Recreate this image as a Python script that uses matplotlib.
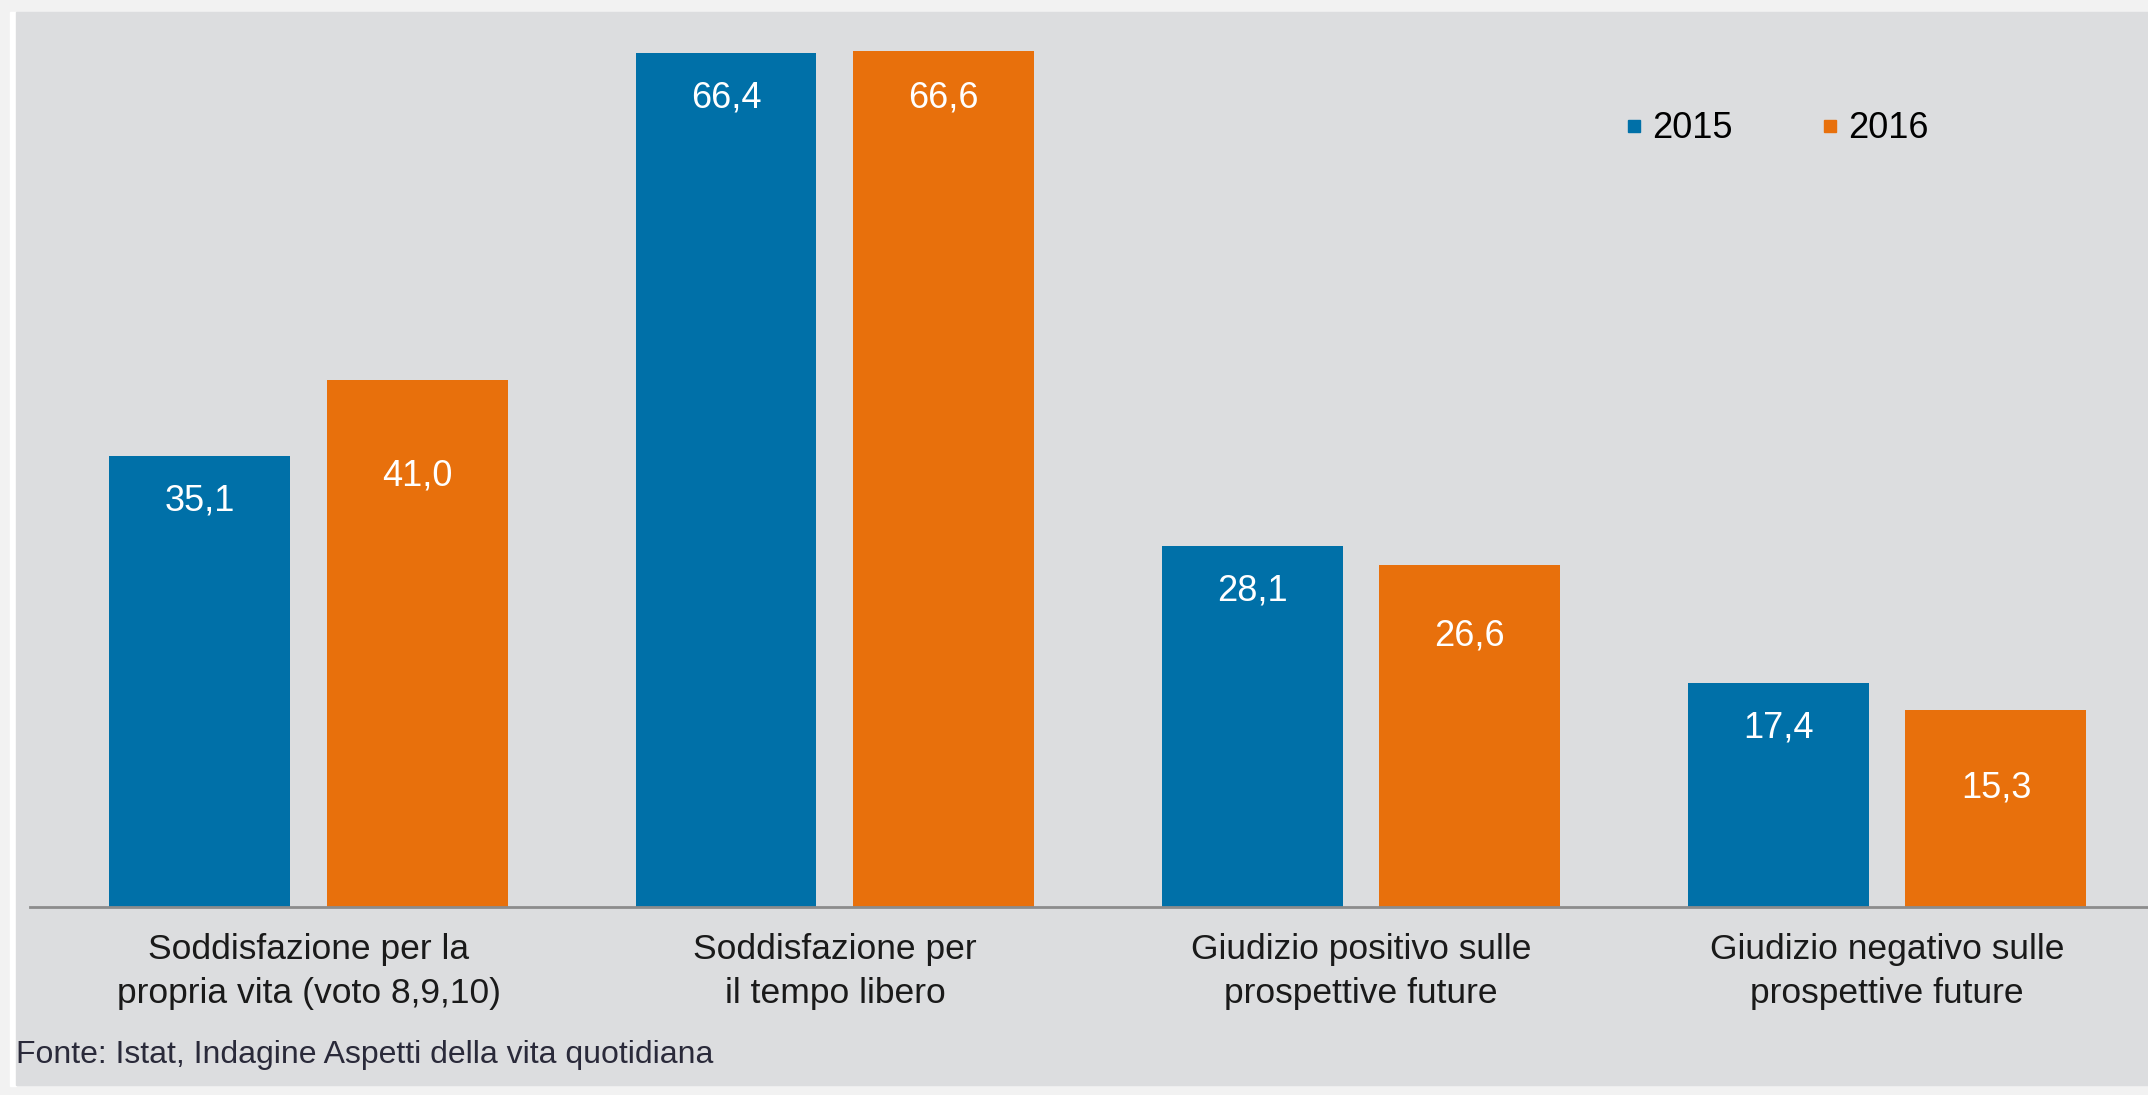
import matplotlib
matplotlib.use("Agg")
import matplotlib.pyplot as plt
from matplotlib.patches import Rectangle
from matplotlib.lines import Line2D
import numpy as np

# data
categories = ["Soddisfazione per la\npropria vita (voto 8,9,10)",
              "Soddisfazione per\nil tempo libero",
              "Giudizio positivo sulle\nprospettive future",
              "Giudizio negativo sulle\nprospettive future"]
years = ["2015", "2016"]
vals_2015 = [35.1, 66.4, 28.1, 17.4]
vals_2016 = [41.0, 66.6, 26.6, 15.3]
source = "Fonte: Istat, Indagine Aspetti della vita quotidiana"

# label drop below bar top, in pixels (as in the original)
drop_2015 = [45, 45, 45, 45]
drop_2016 = [96, 47, 71, 78]

blue = "#0070a8"
orange = "#e8700c"
panel = "#dcdddf"

plt.rcParams['font.family'] = ['Liberation Sans', 'DejaVu Sans']

fig = plt.figure(figsize=(21.48, 10.95), dpi=100)
fig.patch.set_facecolor("#f2f2f2")
W, H = 2148, 1095
# white strip + gray panel
fig.patches.append(Rectangle((10 / W, 0.008), 6 / W, 1 - 12 / H - 0.008,
                             transform=fig.transFigure, color="white", zorder=-10))
fig.patches.append(Rectangle((16 / W, 1 - 1085 / H), 1 - 16 / W, (1085 - 12) / H,
                             transform=fig.transFigure, color=panel, zorder=-10))

ax = fig.add_axes([30 / W, 1 - 907 / H, 1 - 30 / W, (907 - 20) / H])
ax.set_facecolor("none")

x = np.arange(len(categories))
w = 0.344
off = 0.207
b1 = ax.bar(x - off, vals_2015, w, color=blue, zorder=2)
b2 = ax.bar(x + off, vals_2016, w, color=orange, zorder=2)

for bars, vals, drops in [(b1, vals_2015, drop_2015), (b2, vals_2016, drop_2016)]:
    for r, v, d in zip(bars, vals, drops):
        ax.annotate(f"{v:.1f}".replace(".", ","),
                    (r.get_x() + r.get_width() / 2, v),
                    xytext=(0, -d), textcoords="offset pixels",
                    ha="center", va="center", color="white", fontsize=26)

ax.set_xlim(-0.53, 3.496)
ax.set_ylim(0, (907 - 20) / 12.86)
ax.set_xticks(x)
ax.set_xticklabels(categories, fontsize=25.5, linespacing=1.42)
ax.tick_params(axis="x", length=0, pad=19, colors="#1a1a1a")
ax.set_yticks([])
for s in ["top", "left", "right"]:
    ax.spines[s].set_visible(False)
ax.spines["bottom"].set_color("#8c8c8c")
ax.spines["bottom"].set_linewidth(2)

handles = [Line2D([], [], marker="s", ls="none", color=c, markersize=9) for c in (blue, orange)]
leg = ax.legend(handles, years, loc="center left", ncol=2, frameon=False, fontsize=26,
                handlelength=0.8, handletextpad=0.1, columnspacing=2.3, borderaxespad=0)
leg.set_bbox_to_anchor((1605 / W, 1 - 129 / H), transform=fig.transFigure)

fig.text(16 / W, 1 - 1055 / H, source, fontsize=23, va="center", ha="left",
         color="#2a2a3a")

plt.savefig("out.png", dpi=100, facecolor=fig.get_facecolor())
